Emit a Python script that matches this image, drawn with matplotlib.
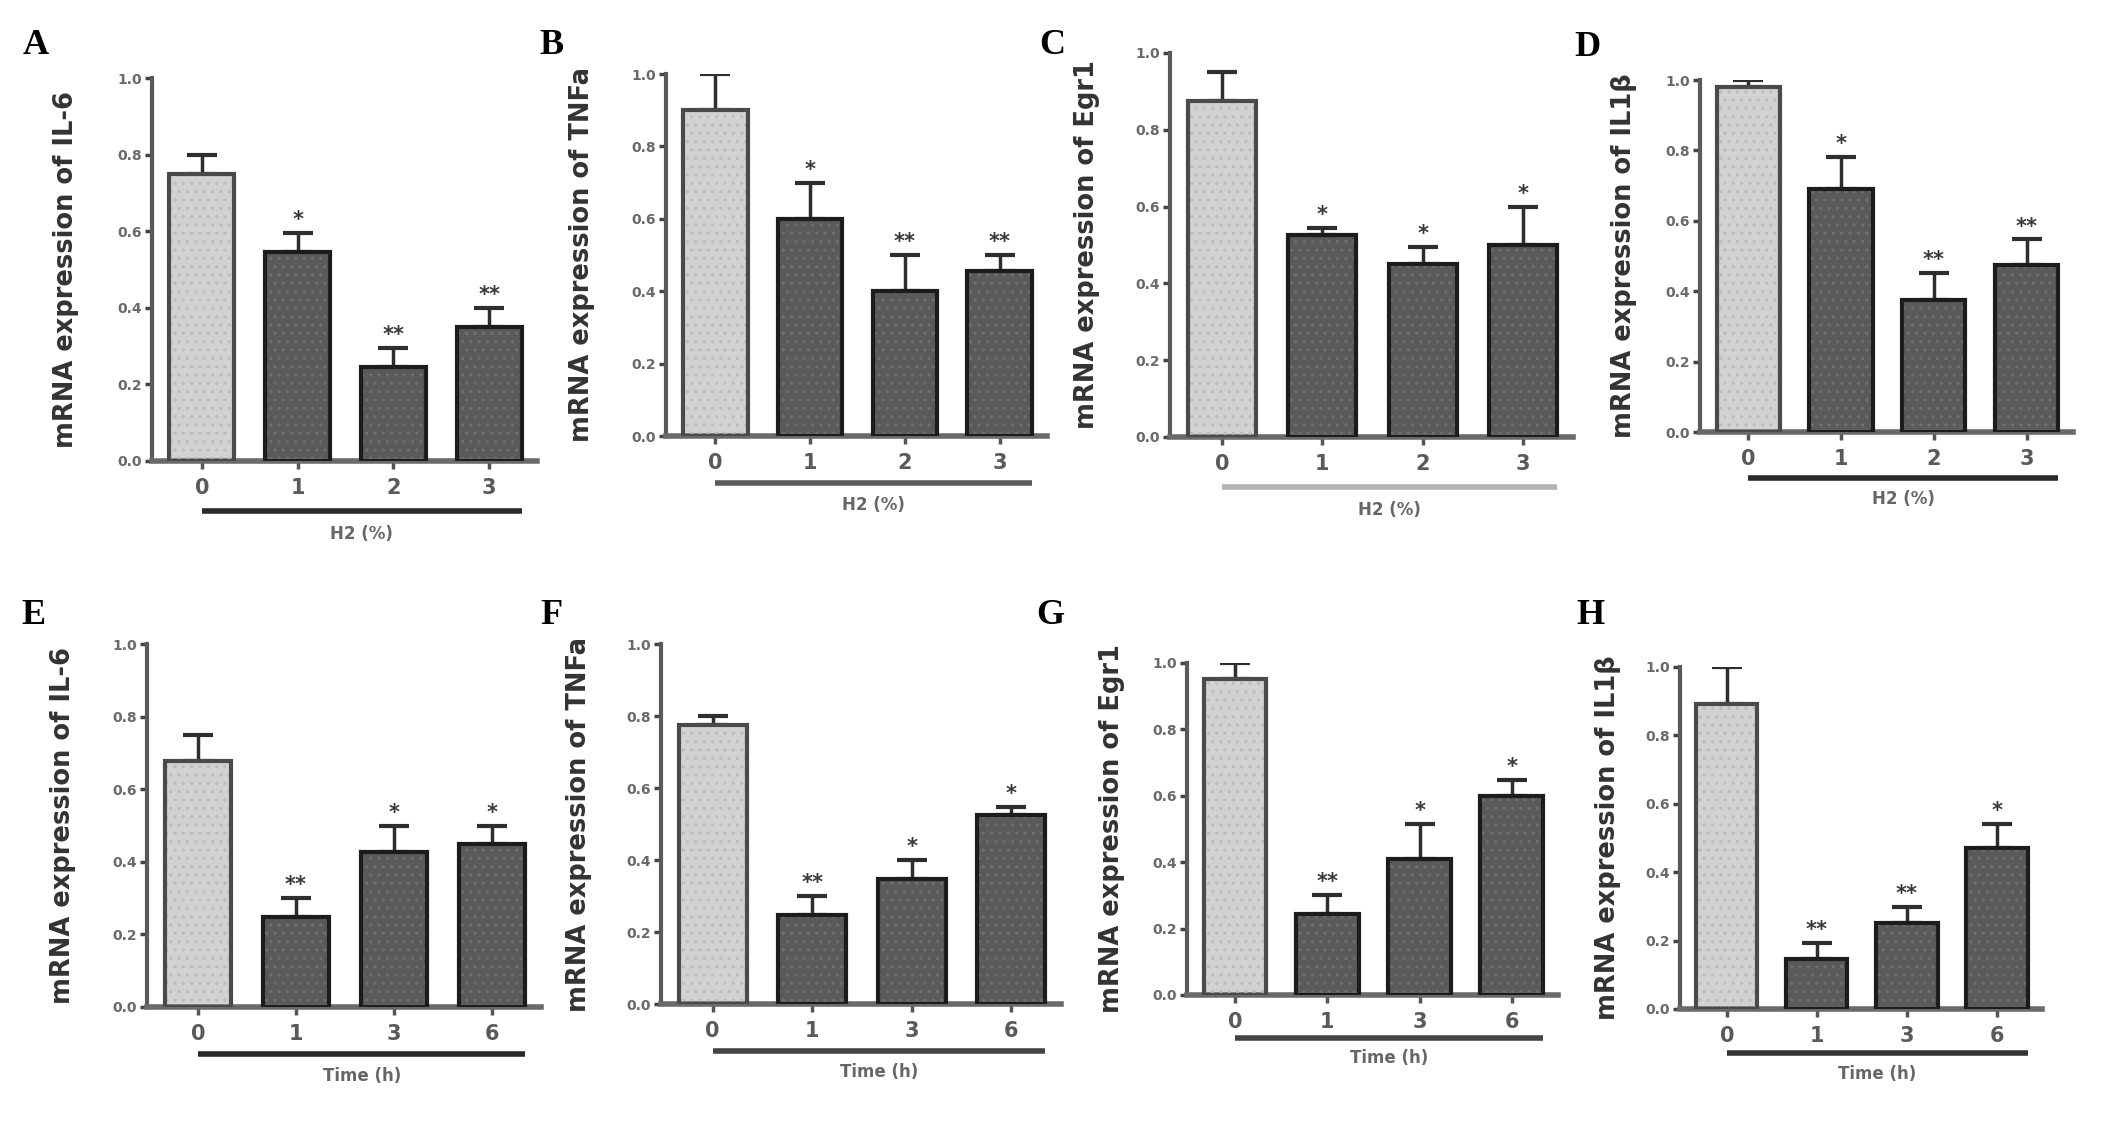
import numpy as np
import matplotlib
matplotlib.use("Agg")
import matplotlib.pyplot as plt
import matplotlib.transforms as mtransforms

# --- data ---
dose_labels = ["0", "1", "2", "3"]
time_labels = ["0", "1", "3", "6"]

il6_dose = [0.75, 0.545, 0.245, 0.35]
il6_dose_err = [0.05, 0.05, 0.05, 0.05]
il6_dose_sig = ["", "*", "**", "**"]

tnf_dose = [0.90, 0.60, 0.40, 0.455]
tnf_dose_err = [0.10, 0.10, 0.10, 0.045]
tnf_dose_sig = ["", "*", "**", "**"]

egr1_dose = [0.875, 0.525, 0.45, 0.50]
egr1_dose_err = [0.075, 0.02, 0.045, 0.10]
egr1_dose_sig = ["", "*", "*", "*"]

il1b_dose = [0.98, 0.69, 0.375, 0.475]
il1b_dose_err = [0.02, 0.09, 0.078, 0.072]
il1b_dose_sig = ["", "*", "**", "**"]

il6_time = [0.677, 0.247, 0.426, 0.45]
il6_time_err = [0.073, 0.053, 0.074, 0.05]
il6_time_sig = ["", "**", "*", "*"]

tnf_time = [0.775, 0.246, 0.346, 0.524]
tnf_time_err = [0.025, 0.054, 0.054, 0.022]
tnf_time_sig = ["", "**", "*", "*"]

egr1_time = [0.953, 0.245, 0.41, 0.60]
egr1_time_err = [0.047, 0.055, 0.105, 0.048]
egr1_time_sig = ["", "**", "*", "*"]

il1b_time = [0.893, 0.147, 0.252, 0.472]
il1b_time_err = [0.107, 0.046, 0.045, 0.068]
il1b_time_sig = ["", "**", "**", "*"]

yticks = [0.0, 0.2, 0.4, 0.6, 0.8, 1.0]

W, H = 2126, 1124
fig = plt.figure(figsize=(W / 100, H / 100), dpi=100)
fig.patch.set_facecolor("white")
plt.rcParams["hatch.linewidth"] = 1.2

# (letter, ylabel, xlabel, ticks, values, errs, sig, underline colour, layout px:
#  axis_x, end_x, y_zero, y_one, ylabel_x, letter_x, letter_y)
panels = [
    ("A", "mRNA expression of IL-6", "H2 (%)", dose_labels, il6_dose, il6_dose_err, il6_dose_sig,
     "#2a2a2a", (152, 537, 461, 78, 79, 36, 46)),
    ("B", "mRNA expression of TNFa", "H2 (%)", dose_labels, tnf_dose, tnf_dose_err, tnf_dose_sig,
     "#5a5a5a", (666, 1047, 436, 74, 595, 552, 45)),
    ("C", "mRNA expression of Egr1", "H2 (%)", dose_labels, egr1_dose, egr1_dose_err, egr1_dose_sig,
     "#b4b4b4", (1170, 1573, 437, 53, 1100, 1052, 45)),
    ("D", "mRNA expression of IL1\u03b2", "H2 (%)", dose_labels, il1b_dose, il1b_dose_err, il1b_dose_sig,
     "#2a2a2a", (1700, 2073, 432, 80, 1637, 1587, 47)),
    ("E", "mRNA expression of IL-6", "Time (h)", time_labels, il6_time, il6_time_err, il6_time_sig,
     "#2a2a2a", (147, 541, 1007, 644, 76, 34, 616)),
    ("F", "mRNA expression of TNFa", "Time (h)", time_labels, tnf_time, tnf_time_err, tnf_time_sig,
     "#444444", (661, 1061, 1004, 644, 592, 551, 616)),
    ("G", "mRNA expression of Egr1", "Time (h)", time_labels, egr1_time, egr1_time_err, egr1_time_sig,
     "#444444", (1187, 1558, 995, 663, 1125, 1050, 616)),
    ("H", "mRNA expression of IL1\u03b2", "Time (h)", time_labels, il1b_time, il1b_time_err, il1b_time_sig,
     "#333333", (1680, 2042, 1009, 667, 1621, 1590, 615)),
]

bar_w = 0.68
face = ["#d2d2d2", "#5a5a5a", "#5a5a5a", "#5a5a5a"]
hatch_col = ["#bdbdbd", "#6e6e6e", "#6e6e6e", "#6e6e6e"]
edge = ["#4a4a4a", "#1c1c1c", "#1c1c1c", "#1c1c1c"]

for letter, ylab, xlab, ticks, vals, errs, sig, line_col, lay in panels:
    ax_x, end_x, y0, y1, ylab_x, let_x, let_y = lay
    ax = fig.add_axes([ax_x / W, 1 - y0 / H, (end_x - ax_x) / W, (y0 - y1) / H])
    x = np.arange(len(vals))

    ax.errorbar(x, vals, yerr=[np.zeros(len(vals)), errs], fmt="none",
                ecolor="#2e2e2e", elinewidth=2.5, capsize=11, capthick=3, zorder=1)
    ax.bar(x, vals, width=bar_w, color=face, edgecolor="none", zorder=2)
    ax.bar(x, vals, width=bar_w, fill=False, hatch="..", edgecolor=hatch_col,
           linewidth=0, zorder=3)
    ax.bar(x, vals, width=bar_w, fill=False, edgecolor=edge, linewidth=3, zorder=4)

    for xi, v, e, s in zip(x, vals, errs, sig):
        if s:
            ax.annotate(s, (xi, v + e), xytext=(0, 5), textcoords="offset points",
                        ha="center", va="baseline", fontsize=15, fontweight="bold",
                        color="#3a3a3a")

    ax.set_xlim(-0.52, 3.5)
    ax.set_ylim(0, 1.0)
    ax.set_yticks(yticks)
    ax.set_yticklabels([f"{t:.1f}" for t in yticks], fontsize=10, fontweight="bold",
                       color="#6a6a6a")
    ax.set_xticks(x)
    ax.set_xticklabels(ticks, fontsize=15, fontweight="bold", color="#5a5a5a")
    ax.tick_params(axis="y", direction="out", length=5, width=2.5, color="#444444", pad=2)
    ax.tick_params(axis="x", direction="out", length=6, width=2.5, color="#555555", pad=6)

    for side in ("top", "right"):
        ax.spines[side].set_visible(False)
    ax.spines["left"].set_color("#5a5a5a")
    ax.spines["left"].set_linewidth(3)
    ax.spines["bottom"].set_color("#6a6a6a")
    ax.spines["bottom"].set_linewidth(4)

    ax.set_ylabel(ylab, fontsize=18.5, fontweight="bold", color="#333333")
    ax.yaxis.set_label_coords(-(ax_x - ylab_x) / (end_x - ax_x), 0.5)

    trans = mtransforms.blended_transform_factory(ax.transData, ax.transAxes)
    ax.plot([0, 3 + bar_w / 2], [-0.13, -0.13], transform=trans, color=line_col,
            linewidth=4, clip_on=False, solid_capstyle="butt")
    ax.text((3 + bar_w / 2) / 2, -0.19, xlab, transform=trans, ha="center", va="center",
            fontsize=12, fontweight="bold", color="#666666")

    fig.text(let_x / W, 1 - let_y / H, letter, ha="center", va="center",
             fontsize=26, fontweight="bold", family="Liberation Serif", color="black")

fig.savefig("out.png", dpi=100, facecolor="white")
